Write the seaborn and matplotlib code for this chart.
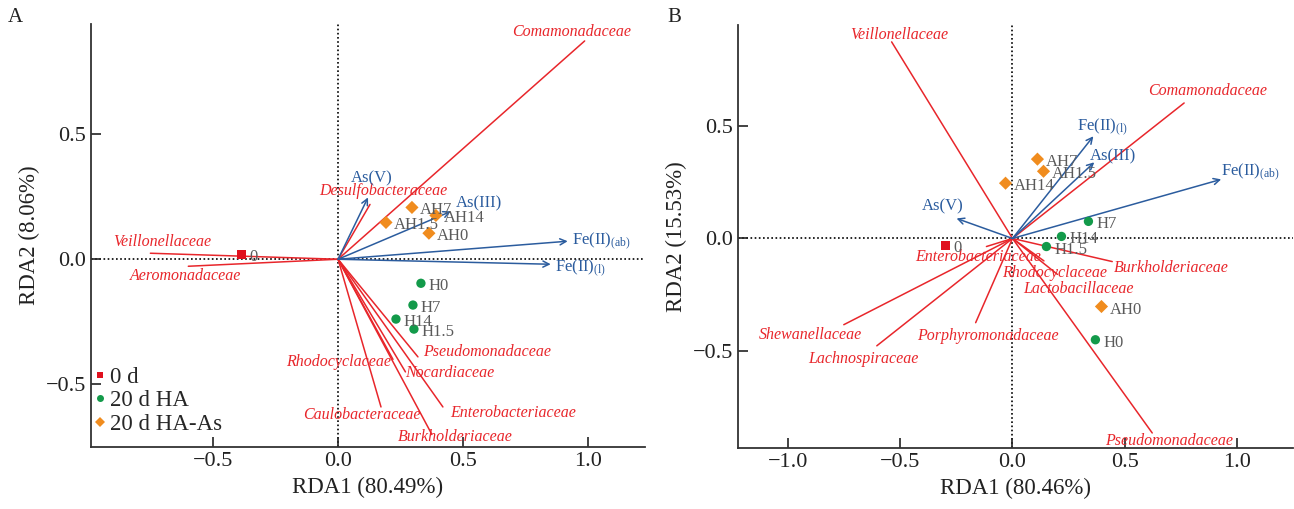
import matplotlib
matplotlib.use("Agg")
import matplotlib.pyplot as plt
import seaborn as sns
import pandas as pd

# --- DATA ---
GROUPS = ["0 d", "20 d HA", "20 d HA-As"]

# panel A samples
A_SAMPLE = ["0", "H0", "H1.5", "H7", "H14", "AH0", "AH1.5", "AH7", "AH14"]
A_GROUP = ["0 d"] + ["20 d HA"] * 4 + ["20 d HA-As"] * 4
A_RDA1 = [-0.388, 0.332, 0.304, 0.300, 0.232, 0.364, 0.192, 0.296, 0.392]
A_RDA2 = [0.020, -0.096, -0.279, -0.183, -0.239, 0.104, 0.147, 0.207, 0.175]

# panel A environmental vectors
A_ENV = ["As(V)", "As(III)", "Fe(II)$_{\\mathrm{(ab)}}$", "Fe(II)$_{\\mathrm{(l)}}$"]
A_ENV_X = [0.120, 0.452, 0.920, 0.852]
A_ENV_Y = [0.247, 0.191, 0.072, -0.020]

# panel A taxa
A_TAXA = ["Comamonadaceae", "Desulfobacteraceae", "Veillonellaceae", "Aeromonadaceae",
          "Caulobacteraceae", "Rhodocyclaceae", "Nocardiaceae", "Pseudomonadaceae",
          "Enterobacteriaceae", "Burkholderiaceae"]
A_TAXA_X = [0.988, 0.128, -0.752, -0.600, 0.172, 0.220, 0.270, 0.320, 0.420, 0.376]
A_TAXA_Y = [0.872, 0.219, 0.024, -0.028, -0.590, -0.400, -0.450, -0.390, -0.590, -0.700]

# panel B samples
B_SAMPLE = ["0", "H0", "H1.5", "H7", "H14", "AH0", "AH1.5", "AH7", "AH14"]
B_GROUP = ["0 d"] + ["20 d HA"] * 4 + ["20 d HA-As"] * 4
B_RDA1 = [-0.298, 0.369, 0.151, 0.338, 0.218, 0.396, 0.138, 0.111, -0.031]
B_RDA2 = [-0.031, -0.451, -0.036, 0.076, 0.009, -0.303, 0.299, 0.353, 0.246]

# panel B environmental vectors
B_ENV = ["Fe(II)$_{\\mathrm{(l)}}$", "As(III)", "Fe(II)$_{\\mathrm{(ab)}}$", "As(V)"]
B_ENV_X = [0.360, 0.364, 0.929, -0.249]
B_ENV_Y = [0.455, 0.339, 0.263, 0.089]

# panel B taxa
B_TAXA = ["Veillonellaceae", "Comamonadaceae", "Shewanellaceae", "Lachnospiraceae",
          "Porphyromonadaceae", "Enterobacteriaceae", "Rhodocyclaceae", "Lactobacillaceae",
          "Burkholderiaceae", "Pseudomonadaceae"]
B_TAXA_X = [-0.538, 0.764, -0.751, -0.604, -0.164, -0.116, 0.140, 0.200, 0.444, 0.622]
B_TAXA_Y = [0.875, 0.603, -0.384, -0.478, -0.375, -0.036, -0.100, -0.160, -0.103, -0.866]

# --- LAYOUT (label offsets in pixels, alignment) ---
A_ENV_LAB = [(4, 19, "center"), (5, 8, "left"), (4, 0, "left"), (4, -4, "left")]
A_TAXA_LAB = [(-13, 9, "center"), (13, 13, "center"), (12, 11, "center"), (-3, -10, "center"),
              (-19, -8, "center"), (-2, -3, "right"), (0, -1, "left"), (5, 5, "left"),
              (7, -6, "left"), (23, -3, "center")]
B_ENV_LAB = [(9, 9, "center"), (19, 6, "center"), (29, 7, "center"), (-14, 12, "center")]
B_TAXA_LAB = [(8, 7, "center"), (23, 12, "center"), (-33, -10, "center"), (-13, -13, "center"),
              (12, -13, "center"), (-8, -10, "center"), (11, -12, "center"), (21, -15, "center"),
              (2, -6, "left"), (17, -8, "center")]

RED = "#e8262b"
BLUE = "#2b5c9e"
GREY = "#5a5a5a"
PALETTE = {"0 d": "#e0101e", "20 d HA": "#139a4a", "20 d HA-As": "#f08c1e"}
MARKERS = {"0 d": "s", "20 d HA": "o", "20 d HA-As": "D"}

sns.set_style("ticks")
plt.rcParams['font.family'] = ['Liberation Serif', 'DejaVu Serif']
plt.rcParams['mathtext.fontset'] = 'custom'
plt.rcParams['mathtext.rm'] = 'Liberation Serif'
plt.rcParams['mathtext.it'] = 'Liberation Serif:italic'


def fmt(v, p):
    return f"{v:.1f}".replace("-", "\u2212")


def draw_panel(ax, sample, group, x, y, env, ex, ey, env_lab, taxa, tx, ty, taxa_lab,
               xlim, ylim, xticks, xlabel, ylabel, legend):
    ax.axhline(0, color="black", ls=(0, (1, 1.5)), lw=1.2, zorder=0)
    ax.axvline(0, color="black", ls=(0, (1, 1.5)), lw=1.2, zorder=0)

    # taxa lines
    for name, px, py, (dx, dy, ha) in zip(taxa, tx, ty, taxa_lab):
        ax.plot([0, px], [0, py], color=RED, lw=1.1, zorder=2)
        ax.annotate(name, xy=(px, py), xytext=(dx, dy), textcoords="offset pixels",
                    ha=ha, va="center", color=RED, fontsize=11.5, style="italic", zorder=3)

    # environmental arrows
    for name, px, py, (dx, dy, ha) in zip(env, ex, ey, env_lab):
        ax.annotate("", xy=(px, py), xytext=(0, 0),
                    arrowprops=dict(arrowstyle="->", color=BLUE, lw=1.1,
                                    shrinkA=0, shrinkB=0, mutation_scale=11), zorder=3)
        ax.annotate(name, xy=(px, py), xytext=(dx, dy), textcoords="offset pixels",
                    ha=ha, va="center", color=BLUE, fontsize=12, zorder=3)

    df = pd.DataFrame({"RDA1": x, "RDA2": y, "group": group, "sample": sample})
    sns.scatterplot(data=df, x="RDA1", y="RDA2", hue="group", style="group",
                    hue_order=GROUPS, style_order=GROUPS, palette=PALETTE, markers=MARKERS,
                    s=45, edgecolor="none", linewidth=0, ax=ax, legend=legend, zorder=4)
    for _, r in df.iterrows():
        ax.annotate(r["sample"], xy=(r["RDA1"], r["RDA2"]), xytext=(8, -3),
                    textcoords="offset pixels", ha="left", va="center",
                    color=GREY, fontsize=12, zorder=5)

    ax.set_xlim(*xlim)
    ax.set_ylim(*ylim)
    ax.set_xticks(xticks)
    ax.set_yticks([-0.5, 0.0, 0.5])
    ax.xaxis.set_major_formatter(matplotlib.ticker.FuncFormatter(fmt))
    ax.yaxis.set_major_formatter(matplotlib.ticker.FuncFormatter(fmt))
    ax.tick_params(direction="in", length=7, width=1.2, labelsize=16, colors="#222222")
    ax.set_xlabel(xlabel, fontsize=16.5, color="#222222", labelpad=4)
    ax.set_ylabel(ylabel, fontsize=16.5, color="#222222", labelpad=4)
    sns.despine(ax=ax)
    for s in ["left", "bottom"]:
        ax.spines[s].set_linewidth(1.3)
        ax.spines[s].set_color("#333333")

    if legend:
        handles, labels = ax.get_legend_handles_labels()
        ax.legend(handles, labels, loc="lower left", bbox_to_anchor=(-0.03, -0.01),
                  frameon=False, fontsize=16.5, handletextpad=0.05, handlelength=0.8,
                  labelspacing=0.12, markerscale=0.75, borderaxespad=0.3)


fig = plt.figure(figsize=(12.94, 5.09), dpi=100)
axA = fig.add_axes([0.0703, 0.1218, 0.4282, 0.8312])
axB = fig.add_axes([0.5703, 0.1198, 0.4290, 0.8310])

draw_panel(axA, A_SAMPLE, A_GROUP, A_RDA1, A_RDA2, A_ENV, A_ENV_X, A_ENV_Y, A_ENV_LAB,
           A_TAXA, A_TAXA_X, A_TAXA_Y, A_TAXA_LAB,
           (-0.99, 1.23), (-0.75, 0.94), [-0.5, 0.0, 0.5, 1.0],
           "RDA1 (80.49%)", "RDA2 (8.06%)", True)
draw_panel(axB, B_SAMPLE, B_GROUP, B_RDA1, B_RDA2, B_ENV, B_ENV_X, B_ENV_Y, B_ENV_LAB,
           B_TAXA, B_TAXA_X, B_TAXA_Y, B_TAXA_LAB,
           (-1.222, 1.249), (-0.933, 0.95), [-1.0, -0.5, 0.0, 0.5, 1.0],
           "RDA1 (80.46%)", "RDA2 (15.53%)", False)

fig.text(0.006, 0.965, "A", fontsize=15, color="#222222", va="center")
fig.text(0.516, 0.965, "B", fontsize=15, color="#222222", va="center")

fig.savefig("out.png", dpi=100)
